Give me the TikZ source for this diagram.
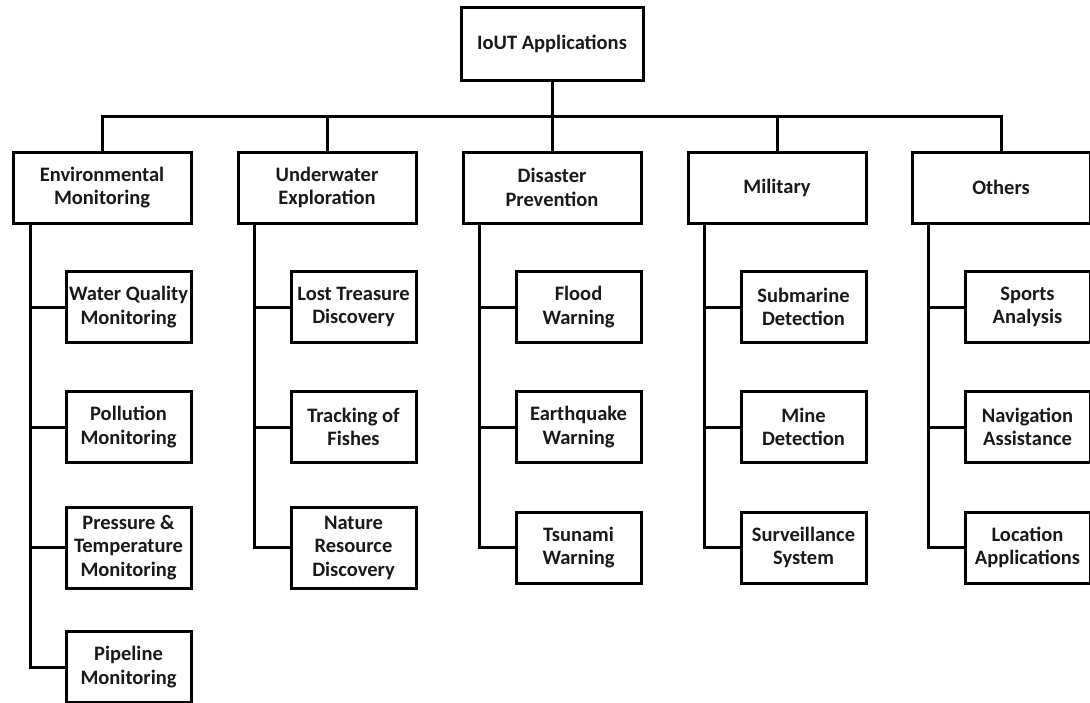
\documentclass[tikz,border=0pt]{standalone}
\usepackage{fontspec}
\setmainfont{Carlito}
\begin{document}
\begin{tikzpicture}[x=1pt,y=-1pt,
  box/.style={draw, line width=3pt, align=center, inner sep=0pt,
    font=\fontsize{20.5}{23.5}\selectfont\bfseries, text=black!90, minimum height=71pt},
  mainbox/.style={box, minimum width=178pt},
  subbox/.style={box, minimum width=125pt},
  tall/.style={minimum height=81pt},
  wire/.style={line width=3pt}]
\useasboundingbox (0,0) rectangle (1090,702);

\node[box, minimum width=182pt, minimum height=73pt] (root) at (552,43.5) {IoUT Applications};

\node[mainbox] (env) at (102,187.5) {Environmental\\Monitoring};
\node[mainbox] (und) at (327,187.5) {Underwater\\Exploration};
\node[mainbox] (dis) at (552,187.5) {Disaster\\Prevention};
\node[mainbox] (mil) at (777,187.5) {Military};
\node[mainbox] (oth) at (1001,187.5) {Others};

% Environmental
\node[subbox] (e1) at (128.5,307) {Water Quality\\Monitoring};
\node[subbox] (e2) at (128.5,427) {Pollution\\Monitoring};
\node[subbox, tall] (e3) at (128.5,547.5) {Pressure \&\\Temperature\\Monitoring};
\node[subbox] (e4) at (128.5,667) {Pipeline\\Monitoring};
% Underwater
\node[subbox] (u1) at (353.5,307) {Lost Treasure\\Discovery};
\node[subbox] (u2) at (353.5,427) {Tracking of\\Fishes};
\node[subbox, tall] (u3) at (353.5,547.5) {Nature\\Resource\\Discovery};
% Disaster
\node[subbox] (d1) at (578.5,307) {Flood\\Warning};
\node[subbox] (d2) at (578.5,427) {Earthquake\\Warning};
\node[subbox] (d3) at (578.5,547.5) {Tsunami\\Warning};
% Military
\node[subbox] (m1) at (803.5,307) {Submarine\\Detection};
\node[subbox] (m2) at (803.5,427) {Mine\\Detection};
\node[subbox] (m3) at (803.5,547.5) {Surveillance\\System};
% Others
\node[subbox] (o1) at (1027.5,307) {Sports\\Analysis};
\node[subbox] (o2) at (1027.5,427) {Navigation\\Assistance};
\node[subbox] (o3) at (1027.5,547.5) {Location\\Applications};

% bus
\coordinate (busy) at (0,116);
\draw[wire] (env.north) |- (busy -| root.south) -| (oth.north);
\draw[wire] (root.south) -- (root.south |- busy);
\draw[wire] (und.north) -- (und.north |- busy);
\draw[wire] (dis.north) -- (dis.north |- busy);
\draw[wire] (mil.north) -- (mil.north |- busy);

% branch spines
\coordinate (ex) at (30,0);
\coordinate (ux) at (254,0);
\coordinate (dx) at (479,0);
\coordinate (mx) at (704,0);
\coordinate (ox) at (928,0);

\draw[wire] (env.south -| ex) |- (e4.west);
\draw[wire] (env.south -| ex) |- (e1.west);
\draw[wire] (env.south -| ex) |- (e2.west);
\draw[wire] (env.south -| ex) |- (e3.west);

\draw[wire] (und.south -| ux) |- (u3.west);
\draw[wire] (und.south -| ux) |- (u1.west);
\draw[wire] (und.south -| ux) |- (u2.west);

\draw[wire] (dis.south -| dx) |- (d3.west);
\draw[wire] (dis.south -| dx) |- (d1.west);
\draw[wire] (dis.south -| dx) |- (d2.west);

\draw[wire] (mil.south -| mx) |- (m3.west);
\draw[wire] (mil.south -| mx) |- (m1.west);
\draw[wire] (mil.south -| mx) |- (m2.west);

\draw[wire] (oth.south -| ox) |- (o3.west);
\draw[wire] (oth.south -| ox) |- (o1.west);
\draw[wire] (oth.south -| ox) |- (o2.west);
\end{tikzpicture}
\end{document}
